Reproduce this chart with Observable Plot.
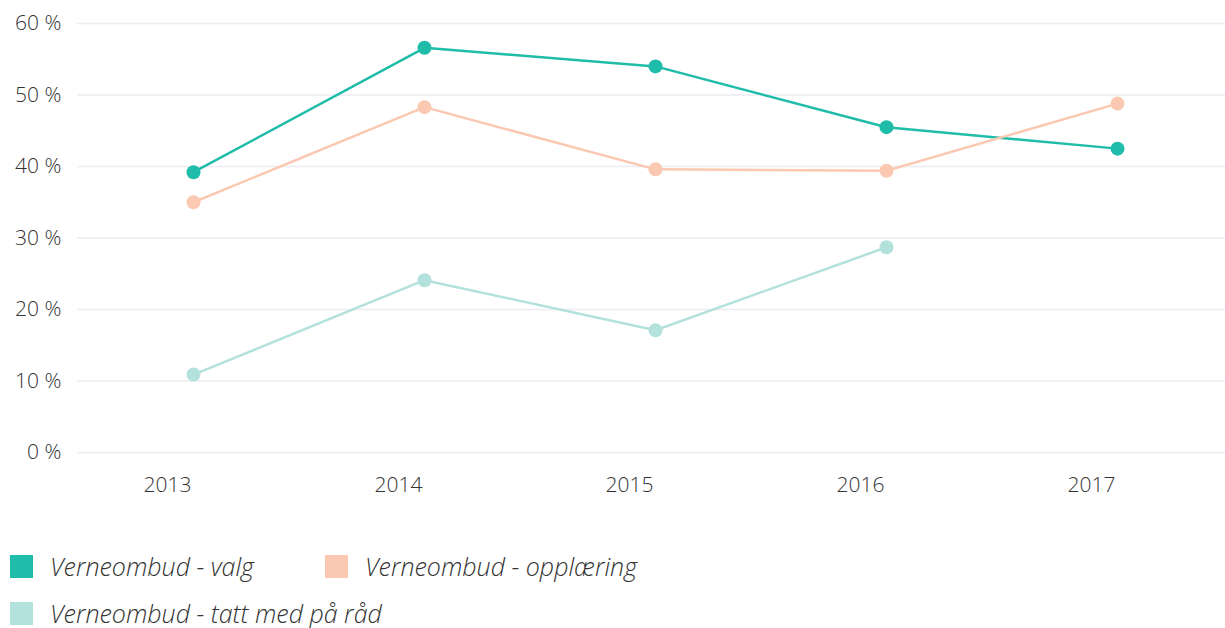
<!DOCTYPE html>
<html>
<head>
<meta charset="utf-8">
<script src="https://cdn.jsdelivr.net/npm/d3@7"></script>
<script src="https://cdn.jsdelivr.net/npm/@observablehq/plot@0.6"></script>
<style>
  html, body { margin: 0; padding: 0; background: #fff; }
  body { width: 1225px; height: 628px; overflow: hidden; font-family: "Open Sans", sans-serif; }
  #chart svg { display: block; }
  .legend { position: absolute; left: 0; top: 0; font-family: "Open Sans", sans-serif; font-style: italic; font-weight: 300; font-size: 25px; line-height: 1; color: #333; }
  .item { position: absolute; display: flex; align-items: center; white-space: nowrap; height: 23px; }
  .sw { width: 23px; height: 23px; margin-right: 17px; flex: none; }
  .lbl { line-height: 1; display: inline-block; }
</style>
</head>
<body>
<div id="chart"></div>
<div class="legend" id="legend"></div>
<script>
const years = [2013, 2014, 2015, 2016, 2017];
const seriesNames = ["Verneombud - valg", "Verneombud - opplæring", "Verneombud - tatt med på råd"];
const colors = ["#20bcaa", "#fbc8b1", "#b3e1dc"];
const valg = [39.2, 56.6, 54.0, 45.5, 42.5];
const opplaering = [35.0, 48.3, 39.6, 39.4, 48.8];
const tattMed = [10.9, 24.1, 17.1, 28.7, null];
const yTicks = [0, 10, 20, 30, 40, 50, 60];

const seriesValues = [valg, opplaering, tattMed];
const data = [];
seriesValues.forEach((vals, si) => {
  vals.forEach((v, i) => {
    if (v != null) data.push({series: seriesNames[si], year: years[i], value: v});
  });
});

const chart = Plot.plot({
  width: 1225,
  height: 500,
  marginTop: 23,
  marginBottom: 48,
  marginLeft: 77,
  marginRight: 0,
  style: {fontFamily: "'Open Sans', sans-serif", fontSize: "21px", fontWeight: 300, color: "#333", background: "#fff"},
  x: {type: "point", domain: years, range: [193, 1117], padding: 0, label: null},
  y: {domain: [0, 60], range: [452, 23], label: null},
  color: {domain: seriesNames, range: colors},
  marks: [
    Plot.gridY(yTicks, {stroke: "#ececf2", strokeOpacity: 1, strokeWidth: 1.6}),
    Plot.axisY(yTicks, {tickSize: 0, tickPadding: 16, tickFormat: d => d + " %", fontSize: 21, fill: "#333", label: null}),
    Plot.axisX(years, {tickSize: 0, tickPadding: 25, dx: -26, tickFormat: d => String(d), fontSize: 21, fill: "#333", label: null}),
    Plot.line(data, {x: "year", y: "value", z: "series", stroke: "series", strokeWidth: 2.5}),
    Plot.dot(data, {x: "year", y: "value", fill: "series", r: 7, stroke: null})
  ]
});
document.getElementById("chart").appendChild(chart);

const legend = document.getElementById("legend");
const pos = [[10, 555], [325, 555], [10, 602]];
seriesNames.forEach((name, i) => {
  const it = document.createElement("div");
  it.className = "item";
  it.style.left = pos[i][0] + "px";
  it.style.top = pos[i][1] + "px";
  it.innerHTML = `<span class="sw" style="background:${colors[i]}"></span><span class="lbl">${name}</span>`;
  legend.appendChild(it);
});
</script>
</body>
</html>
